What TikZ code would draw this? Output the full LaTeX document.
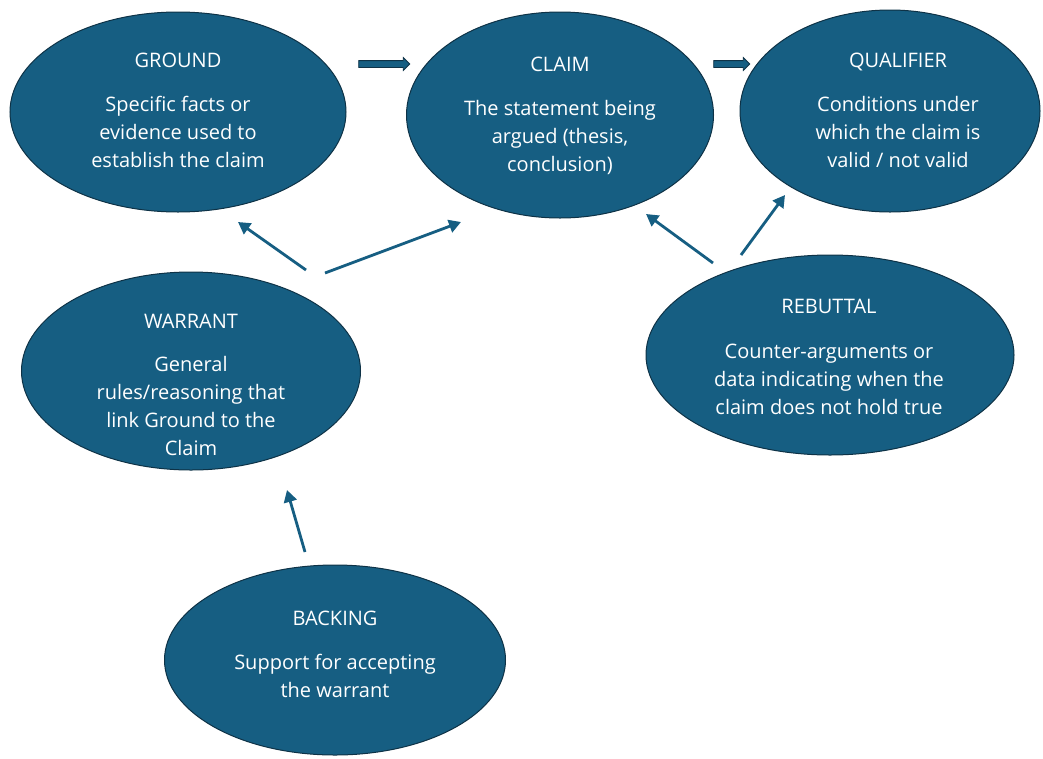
\documentclass[tikz,border=0pt]{standalone}
\usepackage{fontspec}
\setmainfont{Open Sans}
\usetikzlibrary{arrows.meta,shapes.geometric,shapes.arrows}
\definecolor{teal1}{RGB}{22,94,130}
\definecolor{edge1}{RGB}{14,50,70}
\tikzset{
  oval/.style={ellipse, draw=edge1, line width=1pt, fill=teal1, inner sep=0pt},
  txt/.style={text=white, align=center, font=\fontsize{20}{28}\selectfont, inner sep=0pt},
  conn/.style={draw=teal1, line width=2.8pt, -{Triangle[length=12pt,width=13pt]}},
  blockarrow/.style={single arrow, draw=edge1, line width=0.8pt, fill=teal1,
    inner xsep=0pt, inner ysep=3pt,
    minimum width=12pt, single arrow head extend=3pt, single arrow head indent=0pt,
    single arrow tip angle=90, shape border rotate=0}
}
\begin{document}
\begin{tikzpicture}[x=1pt,y=-1pt]
\useasboundingbox (0,0) rectangle (1043,758);
% ellipses
\node[oval, minimum width=336pt, minimum height=200pt] (ground) at (178,112) {};
\node[oval, minimum width=307pt, minimum height=206pt] (claim) at (560,115) {};
\node[oval, minimum width=300pt, minimum height=202pt] (qual) at (890,111) {};
\node[oval, minimum width=339pt, minimum height=198pt] (warrant) at (191,371) {};
\node[oval, minimum width=368pt, minimum height=200pt] (rebut) at (830,355) {};
\node[oval, minimum width=341pt, minimum height=190pt] (backing) at (335,660) {};
% texts
\node[txt] (groundt) at (178,110) {GROUND\\[16pt]Specific facts or\\evidence used to\\establish the claim};
\node[txt] (claimt) at (560,116) {CLAIM\\[16pt]The statement being\\argued (thesis,\\conclusion)};
\node[txt] (qualt) at (898,110) {QUALIFIER\\[16pt]Conditions under\\which the claim is\\valid / not valid};
\node[txt] (warrantt) at (191,384.5) {WARRANT\\[15pt]General\\rules/reasoning that\\link Ground to the\\Claim};
\node[txt] (rebutt) at (829,356.5) {REBUTTAL\\[17pt]Counter-arguments or\\data indicating when the\\claim does not hold true};
\node[txt] (backingt) at (335,654) {BACKING\\[16pt]Support for accepting\\the warrant};
% block arrows
\node[blockarrow, minimum height=51pt] (ba1) at (382.5,64) {};
\node[blockarrow, minimum height=36pt] (ba2) at (730,64) {};
% connector endpoints
\coordinate (w1s) at (306,270);
\coordinate (w1e) at (238,222);
\coordinate (w2s) at (325,273);
\coordinate (w2e) at (461,222);
\coordinate (r1s) at (713,263);
\coordinate (r1e) at (646,214);
\coordinate (r2s) at (741,255);
\coordinate (r2e) at (785,195);
\coordinate (b1s) at (305,552);
\coordinate (b1e) at (287,490);
\draw[conn] (w1s) -- (w1e);
\draw[conn] (w2s) -- (w2e);
\draw[conn] (r1s) -- (r1e);
\draw[conn] (r2s) -- (r2e);
\draw[conn] (b1s) -- (b1e);
\end{tikzpicture}
\end{document}
